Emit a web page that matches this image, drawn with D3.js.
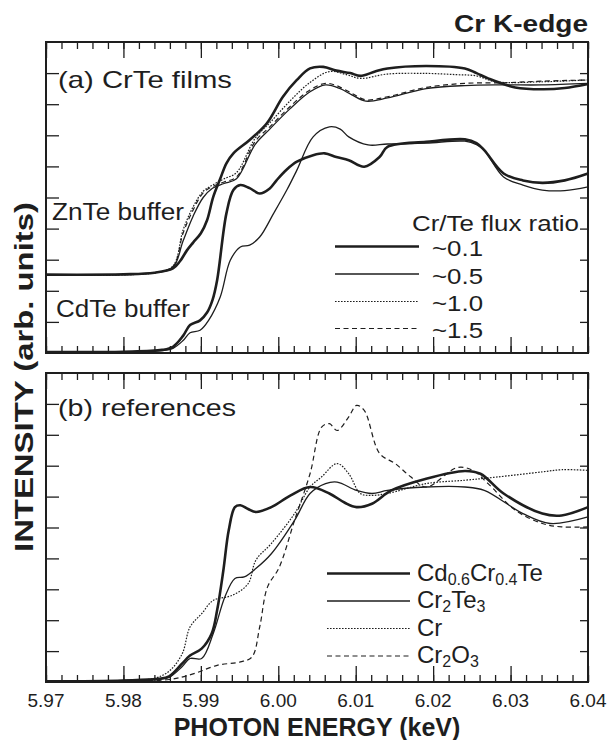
<!DOCTYPE html>
<html>
<head>
<meta charset="utf-8">
<script src="https://cdn.jsdelivr.net/npm/d3@7"></script>
<style>
  body { margin: 0; background: #fff; }
  svg { font-family: "Liberation Sans", Arial, sans-serif; }
</style>
</head>
<body>
<div id="chart"></div>
<script>
// x ticks (keV)
const xTicks = [5.97, 5.98, 5.99, 6.00, 6.01, 6.02, 6.03, 6.04];

// panel (a): [energy, intensity] -- ZnTe buffer group
const znte01 = [[5.970,2.52],[5.980,2.53],[5.984,2.58],[5.9864,2.72],[5.9873,2.95],[5.9882,3.3],[5.989,3.55],[5.990,3.85],[5.9908,4.27],[5.9916,5.02],[5.9925,5.6],[5.9933,6.1],[5.9942,6.42],[5.9963,6.85],[5.9985,7.38],[6.0006,8.24],[6.0024,8.78],[6.0041,9.15],[6.0058,9.2],[6.0075,9.08],[6.0093,9.0],[6.0106,8.91],[6.0125,9.05],[6.0141,9.15],[6.0191,9.23],[6.0241,9.15],[6.0256,9.0],[6.0271,8.83],[6.0306,8.54],[6.0341,8.48],[6.037,8.52],[6.040,8.65]];
const znte05 = [[5.970,2.52],[5.984,2.58],[5.9864,2.75],[5.9877,3.6],[5.989,4.4],[5.9903,5.0],[5.9915,5.3],[5.993,5.45],[5.9946,5.6],[5.997,6.7],[5.9989,7.2],[6.0015,7.85],[6.0041,8.4],[6.0061,8.62],[6.008,8.5],[6.0095,8.3],[6.0113,8.1],[6.0141,8.2],[6.0191,8.5],[6.0241,8.6],[6.0291,8.62],[6.034,8.62],[6.040,8.67]];
const znte10 = [[5.970,2.52],[5.984,2.58],[5.9864,2.8],[5.9877,3.95],[5.989,4.7],[5.9903,5.2],[5.9915,5.4],[5.993,5.6],[5.9946,5.8],[5.997,6.9],[5.9989,7.4],[6.0015,8.1],[6.0041,8.7],[6.0066,9.05],[6.0088,8.95],[6.0106,8.83],[6.0141,8.97],[6.0191,8.99],[6.023,8.95],[6.0256,8.91],[6.0281,8.72],[6.034,8.72],[6.040,8.78]];
const znte15 = [[5.970,2.52],[5.984,2.58],[5.9864,2.78],[5.9877,3.85],[5.989,4.6],[5.9903,5.15],[5.9915,5.35],[5.993,5.5],[5.9946,5.66],[5.997,6.8],[5.9989,7.27],[6.0015,7.92],[6.0041,8.46],[6.0061,8.67],[6.0075,8.6],[6.0095,8.35],[6.0113,8.14],[6.0141,8.24],[6.0191,8.54],[6.0241,8.67],[6.0291,8.69],[6.034,8.74],[6.040,8.78]];

// panel (a): CdTe buffer group
const cdte01 = [[5.970,0.03],[5.980,0.04],[5.985,0.1],[5.9864,0.2],[5.9877,0.55],[5.9886,0.9],[5.9899,1.05],[5.9908,1.3],[5.9915,1.7],[5.9921,2.34],[5.9933,4.49],[5.9942,5.24],[5.9951,5.4],[5.9963,5.3],[5.9976,5.13],[5.9989,5.29],[5.9998,5.56],[6.0011,5.9],[6.0024,6.15],[6.0045,6.36],[6.006,6.42],[6.0075,6.3],[6.0091,6.2],[6.0111,5.99],[6.0131,6.31],[6.0141,6.63],[6.0191,6.79],[6.0241,6.87],[6.0256,6.75],[6.0266,6.52],[6.0291,5.77],[6.0316,5.55],[6.0341,5.47],[6.037,5.55],[6.040,5.77]];
const cdte05 = [[5.970,0.03],[5.980,0.04],[5.985,0.08],[5.9864,0.15],[5.9877,0.4],[5.9886,0.65],[5.9899,0.73],[5.991,1.05],[5.9925,1.8],[5.9938,2.98],[5.9951,3.41],[5.9963,3.47],[5.9976,3.73],[5.9994,4.49],[6.0011,5.24],[6.0024,5.88],[6.0045,6.95],[6.0066,7.27],[6.008,7.2],[6.0091,6.95],[6.0116,6.69],[6.0141,6.72],[6.0191,6.75],[6.0241,6.81],[6.0256,6.7],[6.0266,6.52],[6.0291,5.66],[6.0316,5.4],[6.0341,5.24],[6.037,5.22],[6.040,5.34]];

// panel (b): references
const cdcrte = [[5.970,0.02],[5.980,0.05],[5.9845,0.1],[5.9859,0.18],[5.9876,0.6],[5.9886,0.86],[5.9901,1.08],[5.9914,1.57],[5.9921,2.32],[5.9929,3.6],[5.9936,4.91],[5.9944,5.66],[5.9951,5.72],[5.9961,5.6],[5.9971,5.5],[5.9991,5.66],[6.0016,6.04],[6.0041,6.31],[6.0066,6.1],[6.0086,5.8],[6.0101,5.66],[6.0121,5.77],[6.0146,6.2],[6.0191,6.58],[6.0241,6.83],[6.0261,6.74],[6.0291,6.1],[6.0341,5.45],[6.0366,5.39],[6.040,5.66]];
const cr2te3 = [[5.970,0.02],[5.980,0.05],[5.9845,0.1],[5.9859,0.15],[5.9876,0.5],[5.9886,0.76],[5.9901,0.76],[5.9916,1.57],[5.9931,2.75],[5.9944,3.35],[5.9956,3.4],[5.9971,3.67],[5.9991,4.15],[6.0021,5.23],[6.0041,6.1],[6.0061,6.42],[6.0076,6.47],[6.0101,6.2],[6.0121,6.1],[6.0141,6.2],[6.0191,6.31],[6.0241,6.31],[6.0266,6.2],[6.0316,5.45],[6.0351,5.13],[6.040,5.34]];
const crMetal = [[5.970,0.02],[5.980,0.05],[5.984,0.12],[5.9859,0.35],[5.9876,0.92],[5.9886,1.78],[5.9901,2.21],[5.9916,2.64],[5.9941,2.81],[5.9961,3.18],[5.9971,3.94],[5.9991,4.48],[6.0021,5.45],[6.0041,6.31],[6.0056,6.64],[6.0076,7.07],[6.0091,6.74],[6.0106,6.1],[6.0121,6.04],[6.0141,6.1],[6.0191,6.42],[6.0241,6.53],[6.0281,6.63],[6.0341,6.8],[6.0366,6.87],[6.040,6.85]];
const cr2o3 = [[5.970,0.02],[5.980,0.04],[5.9859,0.08],[5.9891,0.27],[5.9921,0.54],[5.9951,0.65],[5.9966,0.81],[5.9976,1.78],[5.9986,3.07],[6.0001,3.7],[6.0021,5.23],[6.0041,6.74],[6.0056,8.25],[6.0066,8.36],[6.0076,8.14],[6.0091,8.58],[6.0101,8.95],[6.0111,8.79],[6.0131,7.39],[6.0151,7.07],[6.0171,6.64],[6.0191,6.31],[6.0231,6.94],[6.0251,6.85],[6.0271,6.42],[6.0306,5.56],[6.0341,5.13],[6.0366,5.02],[6.040,5.02]];

const fluxLabels = ['~0.1', '~0.5', '~1.0', '~1.5'];

const ink = '#1e1e1e';
const styles = {
  thick: { w: 2.6, dash: null },
  thin: { w: 1.3, dash: null },
  dot: { w: 1.2, dash: '1.6,1.4' },
  dash: { w: 1.2, dash: '5,3.5' }
};

const W = 608, H = 740;
const x0 = 46, x1 = 588;
const panelA = { top: 42, bottom: 353 };
const panelB = { top: 373, bottom: 682 };

const svg = d3.select('#chart').append('svg')
  .attr('width', W).attr('height', H);

const x = d3.scaleLinear().domain([5.97, 6.04]).range([x0, x1]);
const yA = d3.scaleLinear().domain([0, 10]).range([panelA.bottom, panelA.top]);
const yB = d3.scaleLinear().domain([0, 10]).range([panelB.bottom, panelB.top]);

function drawFrame(y, p) {
  const g = svg.append('g');
  const minor = d3.range(5.97, 6.0401, 0.002);
  const yt = d3.range(1, 10);

  g.append('g').attr('transform', 'translate(0,' + p.bottom + ')')
    .call(d3.axisBottom(x).tickValues(minor).tickSize(-7).tickFormat(''));
  g.append('g').attr('transform', 'translate(0,' + p.bottom + ')')
    .call(d3.axisBottom(x).tickValues(xTicks).tickSize(-16).tickFormat(''));
  g.append('g').attr('transform', 'translate(0,' + p.top + ')')
    .call(d3.axisTop(x).tickValues(minor).tickSize(-7).tickFormat(''));
  g.append('g').attr('transform', 'translate(0,' + p.top + ')')
    .call(d3.axisTop(x).tickValues(xTicks).tickSize(-16).tickFormat(''));
  g.append('g').attr('transform', 'translate(' + x0 + ',0)')
    .call(d3.axisLeft(y).tickValues(yt).tickSize(-13).tickFormat(''));
  g.append('g').attr('transform', 'translate(' + x1 + ',0)')
    .call(d3.axisRight(y).tickValues(yt).tickSize(-8).tickFormat(''));

  g.selectAll('.domain').remove();
  g.selectAll('.tick line').attr('stroke', ink).attr('stroke-width', 1.3);

  g.append('rect')
    .attr('x', x0).attr('y', p.top)
    .attr('width', x1 - x0).attr('height', p.bottom - p.top)
    .attr('fill', 'none').attr('stroke', ink).attr('stroke-width', 2);
}

function drawCurve(data, y, st) {
  const line = d3.line()
    .x(d => x(d[0]))
    .y(d => y(d[1]))
    .curve(d3.curveCatmullRom.alpha(0.5));
  svg.append('path')
    .datum(data)
    .attr('d', line)
    .attr('fill', 'none')
    .attr('stroke', ink)
    .attr('stroke-width', st.w)
    .attr('stroke-linejoin', 'round')
    .attr('stroke-dasharray', st.dash);
}

drawFrame(yA, panelA);
drawFrame(yB, panelB);

drawCurve(znte15, yA, styles.dash);
drawCurve(znte10, yA, styles.dot);
drawCurve(znte05, yA, styles.thin);
drawCurve(znte01, yA, styles.thick);
drawCurve(cdte05, yA, styles.thin);
drawCurve(cdte01, yA, styles.thick);

drawCurve(cr2o3, yB, styles.dash);
drawCurve(crMetal, yB, styles.dot);
drawCurve(cr2te3, yB, styles.thin);
drawCurve(cdcrte, yB, styles.thick);

function label(txt, xp, yp, size, opts) {
  opts = opts || {};
  const t = svg.append('text')
    .attr('x', xp).attr('y', yp)
    .attr('font-size', size)
    .attr('fill', ink)
    .attr('font-weight', opts.bold ? 'bold' : 'normal')
    .attr('text-anchor', opts.anchor || 'start')
    .text(txt);
  if (opts.len) t.attr('textLength', opts.len).attr('lengthAdjust', 'spacingAndGlyphs');
  return t;
}

label('Cr K-edge', 454, 32, 24, { bold: true, len: 134 });
label('(a) CrTe films', 58, 88, 24, { len: 174 });
label('ZnTe buffer', 52, 220, 23, { len: 132 });
label('CdTe buffer', 56, 317, 23, { len: 134 });
label('Cr/Te flux ratio', 412, 231, 22, { len: 167 });
label('(b) references', 58, 416, 24, { len: 178 });

// legend (a)
const legA = [styles.thick, styles.thin, styles.dot, styles.dash];
const legAy = [246.5, 274, 301.5, 328.5];
legA.forEach((st, i) => {
  svg.append('line')
    .attr('x1', 335).attr('x2', 419)
    .attr('y1', legAy[i]).attr('y2', legAy[i])
    .attr('stroke', ink).attr('stroke-width', st.w)
    .attr('stroke-dasharray', st.dash);
  label(fluxLabels[i], 432, legAy[i] + 9.5, 22, { len: 51 });
});

// legend (b) with subscripts
const refNames = [
  [['Cd', 0], ['0.6', 1], ['Cr', 0], ['0.4', 1], ['Te', 0]],
  [['Cr', 0], ['2', 1], ['Te', 0], ['3', 1]],
  [['Cr', 0]],
  [['Cr', 0], ['2', 1], ['O', 0], ['3', 1]]
];
const legBy = [573.5, 601, 628.5, 656];
legA.forEach((st, i) => {
  svg.append('line')
    .attr('x1', 327).attr('x2', 410)
    .attr('y1', legBy[i]).attr('y2', legBy[i])
    .attr('stroke', ink).attr('stroke-width', st.w)
    .attr('stroke-dasharray', st.dash);
  const t = svg.append('text')
    .attr('x', 417).attr('y', legBy[i] + 7)
    .attr('font-size', 24).attr('fill', ink);
  let sub = 0;
  refNames[i].forEach(([s, isSub]) => {
    const dy = isSub ? (sub ? 0 : 4) : (sub ? -4 : 0);
    sub = isSub;
    t.append('tspan').attr('dy', dy)
      .attr('font-size', isSub ? 16 : 24)
      .text(s);
  });
});

// x tick labels
svg.selectAll('.xlab')
  .data(xTicks)
  .enter().append('text')
  .attr('class', 'xlab')
  .attr('x', d => x(d))
  .attr('y', 707)
  .attr('text-anchor', 'middle')
  .attr('font-size', 19)
  .attr('fill', ink)
  .text(d3.format('.2f'));

label('PHOTON ENERGY (keV)', 317, 736, 25, { bold: true, anchor: 'middle' });

svg.append('text')
  .attr('transform', 'translate(33,377) rotate(-90)')
  .attr('text-anchor', 'middle')
  .attr('font-size', 25)
  .attr('font-weight', 'bold')
  .attr('fill', ink)
  .attr('textLength', 350)
  .attr('lengthAdjust', 'spacingAndGlyphs')
  .text('INTENSITY (arb. units)');
</script>
</body>
</html>
